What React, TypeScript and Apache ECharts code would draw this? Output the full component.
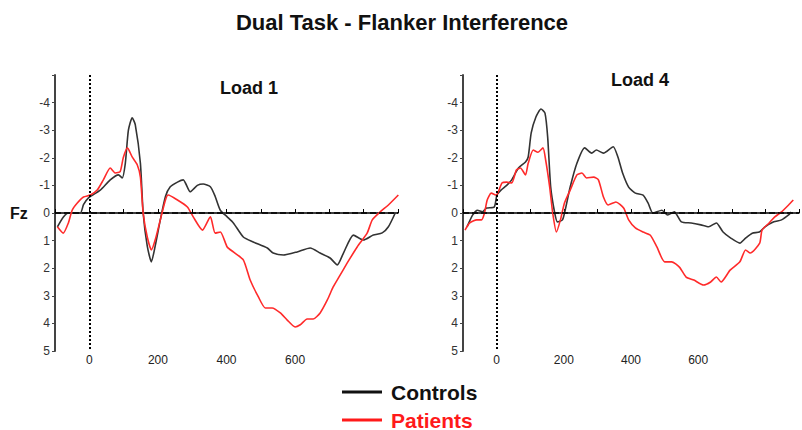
import React, { useEffect, useRef } from "react";
import * as echarts from "echarts";

// Time (ms) / amplitude (µV) pairs (negative plotted upwards)
const load1Controls: [number, number][] = [
  [-93, 0.5], [-76, 0.15], [-61, 0], [-26, 0], [-17, -0.3], [-3, -0.54], [32, -0.83], [61, -1.2],
  [85, -1.38], [96, -1.27], [105, -1.8], [114, -3.0], [125, -3.45], [134, -3.2], [149, -1.8],
  [157, 0], [169, 1.2], [181, 1.77], [192, 1.2], [207, 0.25], [222, -0.6], [236, -0.95],
  [257, -1.12], [274, -1.2], [294, -0.77], [315, -1.0], [332, -1.05], [353, -0.95], [367, -0.6],
  [382, -0.1], [402, 0.14], [420, 0.36], [449, 0.87], [478, 1.05], [519, 1.27], [536, 1.45],
  [566, 1.52], [606, 1.41], [644, 1.27], [673, 1.45], [702, 1.63], [723, 1.88], [741, 1.45],
  [770, 0.8], [799, 0.98], [828, 0.8], [854, 0.72], [872, 0.5], [892, 0],
];
const load1Patients: [number, number][] = [
  [-93, 0.5], [-76, 0.73], [-61, 0.36], [-50, -0.1], [-35, -0.36], [-17, -0.58], [3, -0.65],
  [23, -0.83], [41, -1.2], [61, -1.63], [76, -1.45], [90, -1.5], [99, -2.0], [111, -2.36],
  [125, -2.03], [140, -1.74], [149, -1.3], [157, 0], [169, 0.87], [181, 1.34], [192, 0.98],
  [207, 0.25], [222, -0.47], [230, -0.65], [257, -0.47], [286, -0.22], [303, 0.14], [330, 0.62],
  [353, 0.14], [367, 0.73], [382, 0.69], [402, 1.23], [420, 1.41], [449, 1.7], [469, 2.43],
  [493, 3.04], [513, 3.44], [533, 3.44], [557, 3.62], [577, 3.88], [600, 4.13], [615, 4.05],
  [635, 3.84], [653, 3.84], [673, 3.62], [694, 3.15], [711, 2.68], [726, 2.36], [752, 1.81],
  [781, 1.23], [810, 0.73], [825, 0.25], [848, -0.04], [872, -0.29], [901, -0.65],
];
const load4Controls: [number, number][] = [
  [-88, 0.5], [-71, 0.07], [-57, -0.1], [-42, -0.04], [-30, -0.18], [-7, -0.22], [1, -0.65],
  [13, -0.83], [30, -1.0], [45, -1.2], [65, -1.63], [86, -1.85], [94, -2.03], [103, -2.9],
  [117, -3.48], [132, -3.77], [144, -3.62], [152, -2.75], [161, -0.94], [173, 0], [181, 0.32],
  [196, 0.25], [204, -0.1], [219, -0.94], [239, -1.8], [262, -2.36], [283, -2.17], [297, -2.28],
  [318, -2.17], [347, -2.4], [361, -2.03], [375, -1.45], [393, -0.94], [413, -0.72], [436, -0.65],
  [451, -0.36], [465, 0], [492, -0.1], [509, 0.07], [529, -0.04], [550, 0.32], [579, 0.36],
  [608, 0.43], [631, 0.5], [654, 0.36], [674, 0.69], [697, 0.91], [724, 1.09], [741, 0.91],
  [761, 0.73], [782, 0.69], [799, 0.5], [825, 0.32], [848, 0.25], [869, 0.07], [877, -0.04],
];
const load4Patients: [number, number][] = [
  [-94, 0.62], [-80, 0.36], [-59, 0.25], [-45, 0.25], [-36, 0], [-28, -0.47], [-16, -0.72],
  [-1, -0.65], [16, -1.09], [30, -1.12], [45, -1.09], [59, -1.56], [71, -1.63], [86, -1.38],
  [94, -1.8], [109, -2.28], [123, -2.2], [138, -2.36], [146, -1.92], [158, -0.94], [167, 0],
  [178, 0.69], [190, 0.25], [202, -0.36], [219, -0.83], [239, -1.38], [254, -1.45], [268, -1.27],
  [289, -1.3], [303, -1.2], [318, -0.58], [332, -0.29], [355, -0.4], [378, -0.18], [393, 0.25],
  [413, 0.54], [436, 0.69], [457, 0.8], [477, 1.23], [500, 1.77], [521, 1.77], [544, 1.96],
  [564, 2.32], [587, 2.43], [616, 2.61], [637, 2.5], [654, 2.32], [668, 2.5], [695, 2.07],
  [724, 1.77], [741, 1.34], [755, 1.45], [783, 1.09], [790, 0.62], [811, 0.36], [828, 0.14],
  [848, -0.04], [869, -0.29], [883, -0.47],
];

const xLabels = [0, 200, 400, 600];
const yLabels = [-4, -3, -2, -1, 0, 1, 2, 3, 4, 5];
const panelTitles = ["Load 1", "Load 4"];
const seriesNames = ["Controls", "Patients"];

const CONTROL_COLOR = "#333333";
const PATIENT_COLOR = "#ff2a2a";

export default function App() {
  const ref = useRef<HTMLDivElement>(null);

  useEffect(() => {
    if (!ref.current) return;
    const chart = echarts.init(ref.current, undefined, { renderer: "svg" });
    const font = "'Liberation Sans', Arial, sans-serif";

    const makeX = (gi: number) => ({
      type: "value",
      gridIndex: gi,
      min: -100,
      max: 900,
      interval: 100,
      splitLine: { show: false },
      axisLine: { onZero: true, lineStyle: { color: "#000", width: 1.5 } },
      axisTick: {
        show: true,
        inside: true,
        length: 4,
        interval: (_i: number, v: any) => xLabels.includes(Number(v)),
        lineStyle: { color: "#000" },
      },
      axisLabel: {
        margin: 3,
        color: "#222",
        fontFamily: font,
        fontSize: 12,
        formatter: (v: number) => (xLabels.includes(v) ? String(v) : ""),
      },
    });
    const makeY = (gi: number) => ({
      type: "value",
      gridIndex: gi,
      min: -5,
      max: 5,
      interval: 1,
      inverse: true,
      splitLine: { show: false },
      axisLine: { show: true, onZero: false, lineStyle: { color: "#444", width: 2 } },
      axisTick: { show: true, length: 3, lineStyle: { color: "#444" } },
      axisLabel: {
        margin: 5,
        color: "#333",
        fontFamily: font,
        fontSize: 12,
        formatter: (v: number) => (yLabels.includes(v) ? String(v) : ""),
      },
    });

    const markLines = {
      silent: true,
      symbol: "none",
      label: { show: false },
      animation: false,
      data: [
        { xAxis: 0, lineStyle: { type: "dotted", color: "#000", width: 2 } },
        { yAxis: 0, lineStyle: { type: "dashed", color: "#000", width: 1.5 } },
      ],
    };

    const line = (name: string, data: [number, number][], gi: number, color: string, withMark: boolean) => ({
      type: "line",
      name,
      xAxisIndex: gi,
      yAxisIndex: gi,
      data,
      showSymbol: false,
      symbol: "none",
      smooth: 0.2,
      lineStyle: { color, width: 1.6 },
      itemStyle: { color },
      markLine: withMark ? markLines : undefined,
      z: color === PATIENT_COLOR ? 3 : 2,
    });

    const legendItem = (y: number, text: string, lineColor: string, textColor: string) => [
      {
        type: "line",
        shape: { x1: 342, y1: y, x2: 382, y2: y },
        style: { stroke: lineColor, lineWidth: 3 },
      },
      {
        type: "text",
        x: 391,
        y,
        style: { text, font: `bold 21px ${font}`, fill: textColor, align: "left", verticalAlign: "middle" },
      },
    ];

    chart.setOption({
      animation: false,
      backgroundColor: "#fff",
      grid: [
        { left: 55, top: 75, width: 343, height: 276 },
        { left: 463, top: 75, width: 345, height: 276 },
      ],
      xAxis: [makeX(0), makeX(1)],
      yAxis: [makeY(0), makeY(1)],
      graphic: [
        {
          type: "text",
          x: 402,
          y: 22,
          style: { text: "Dual Task - Flanker Interference", font: `bold 22px ${font}`, fill: "#111", align: "center", verticalAlign: "middle" },
        },
        {
          type: "text",
          x: 249,
          y: 88,
          style: { text: panelTitles[0], font: `bold 18px ${font}`, fill: "#111", align: "center", verticalAlign: "middle" },
        },
        {
          type: "text",
          x: 640,
          y: 80,
          style: { text: panelTitles[1], font: `bold 18px ${font}`, fill: "#111", align: "center", verticalAlign: "middle" },
        },
        {
          type: "text",
          x: 10,
          y: 213,
          style: { text: "Fz", font: `bold 16px ${font}`, fill: "#111", align: "left", verticalAlign: "middle" },
        },
        ...legendItem(392, seriesNames[0], "#111", "#111"),
        ...legendItem(420, seriesNames[1], "#ff1a1a", "#ff1a1a"),
      ],
      series: [
        line(seriesNames[0], load1Controls, 0, CONTROL_COLOR, true),
        line(seriesNames[1], load1Patients, 0, PATIENT_COLOR, false),
        line(seriesNames[0], load4Controls, 1, CONTROL_COLOR, true),
        line(seriesNames[1], load4Patients, 1, PATIENT_COLOR, false),
      ],
    });
    return () => chart.dispose();
  }, []);

  return <div ref={ref} style={{ width: 802, height: 430, position: "absolute", left: 0, top: 0 }} />;
}
